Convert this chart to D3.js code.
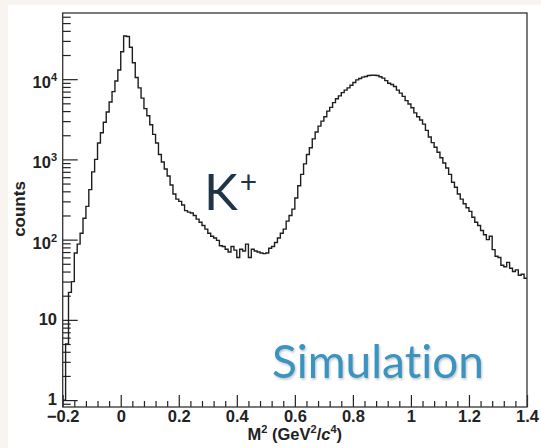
<!DOCTYPE html>
<html>
<head>
<meta charset="utf-8">
<script src="https://cdn.jsdelivr.net/npm/d3@7"></script>
<style>
  body { margin: 0; background: #f8f5f0; }
  text { font-family: "Liberation Sans", Arial, sans-serif; }
</style>
</head>
<body>
<div id="chart"></div>
<script>
(() => {

  // histogram bins: 0.01 wide, starting at M^2 = -0.2
  let binStart = -0.2;
  let binWidth = 0.01;
  let counts = [
    1, 5, 22, 30, 68, 88, 120, 185, 260, 420,
    700, 1000, 1600, 2150, 2900, 3900, 5200, 7000, 9500, 13000,
    22000, 34500, 34000, 25000, 16000, 10500, 7800, 5800, 4300, 3500,
    2700, 2050, 1600, 1150, 930, 760, 620, 480, 370, 320,
    300, 270, 230, 220, 215, 200, 180, 165, 150, 135,
    120, 110, 105, 98, 84, 82, 76, 70, 82, 74,
    60, 76, 72, 88, 60, 76, 72, 70, 68, 67,
    68, 78, 82, 92, 105, 120, 135, 170, 200, 240,
    330, 470, 650, 880, 1150, 1400, 1800, 2200, 2600, 3000,
    3400, 4000, 4450, 5100, 5700, 6200, 6800, 7300, 7800, 8400,
    9100, 9800, 10200, 10600, 10800, 11100, 11200, 11200, 11100, 10700,
    10300, 9600, 8900, 8600, 8100, 7300, 6700, 6100, 5400, 4900,
    4400, 3800, 3400, 3100, 2750, 2300, 1900, 1620, 1420, 1230,
    1050, 900, 780, 650, 520, 450, 370, 320, 280, 250,
    225, 190, 165, 150, 130, 115, 100, 110, 75, 62,
    60, 48, 46, 52, 44, 40, 42, 36, 37, 33
  ];

  let xMajor = [-0.2, 0, 0.2, 0.4, 0.6, 0.8, 1, 1.2, 1.4];
  let xLabels = ['\u22120.2', '0', '0.2', '0.4', '0.6', '0.8', '1', '1.2', '1.4'];
  let yMajor = [1, 10, 100, 1000, 10000];
  let yBase = ['1', '10', '10', '10', '10'];
  let yExp = ['', '', '2', '3', '4'];

  let W = 541, H = 448;
  let frame = { left: 62.7, right: 527, top: 13, bottom: 407 };

  let svg = d3.select('#chart')
    .append('svg')
    .attr('width', W)
    .attr('height', H);

  svg.append('rect')
    .attr('width', W).attr('height', H)
    .attr('fill', '#f8f5f0');
  // white slide panel
  svg.append('rect')
    .attr('x', 8).attr('y', 5)
    .attr('width', W - 8).attr('height', H - 5)
    .attr('fill', '#ffffff');

  let defs = svg.append('defs');
  defs.append('clipPath').attr('id', 'plotClip')
    .append('rect')
    .attr('x', frame.left).attr('y', frame.top)
    .attr('width', frame.right - frame.left)
    .attr('height', frame.bottom - frame.top);
  defs.append('filter').attr('id', 'soft')
    .attr('x', '-10%').attr('y', '-10%').attr('width', '130%').attr('height', '140%')
    .append('feDropShadow')
    .attr('dx', 1).attr('dy', 1.5).attr('stdDeviation', 1.2)
    .attr('flood-color', '#000').attr('flood-opacity', 0.25);

  let xScale = d3.scaleLinear()
    .domain([-0.2, 1.4])
    .range([frame.left, frame.right]);

  let yScale = d3.scaleLog()
    .domain([0.82, 66800])
    .range([frame.bottom, frame.top]);

  // x minor ticks every 0.04
  let xMinor = d3.range(0, 41).map(i => -0.2 + i * 0.04)
    .filter(v => xMajor.every(m => Math.abs(m - v) > 1e-6));

  // y minor ticks 2..9 in each decade (plus 0.9 just above the bottom)
  let yMinor = [];
  for (let e = -1; e <= 4; e++) {
    for (let k = 2; k <= 9; k++) {
      let v = k * Math.pow(10, e);
      if (v >= 0.82 && v <= 66800) yMinor.push(v);
    }
  }

  let axisColor = '#222';

  let gxMinor = svg.append('g')
    .attr('transform', `translate(0, ${frame.bottom})`)
    .call(d3.axisBottom(xScale).tickValues(xMinor).tickSize(-6).tickFormat(''));
  let gx = svg.append('g')
    .attr('transform', `translate(0, ${frame.bottom})`)
    .call(d3.axisBottom(xScale).tickValues(xMajor).tickSize(-12).tickPadding(3)
      .tickFormat((d, i) => xLabels[i]));

  let gyMinor = svg.append('g')
    .attr('transform', `translate(${frame.left}, 0)`)
    .call(d3.axisLeft(yScale).tickValues(yMinor).tickSize(-8).tickFormat(''));
  let gy = svg.append('g')
    .attr('transform', `translate(${frame.left}, 0)`)
    .call(d3.axisLeft(yScale).tickValues(yMajor).tickSize(-15).tickFormat(''));

  [gxMinor, gx, gyMinor, gy].forEach(g => {
    g.select('.domain').remove();
    g.selectAll('line').attr('stroke', axisColor).attr('stroke-width', 1.2);
  });

  gx.selectAll('text')
    .attr('fill', axisColor)
    .style('font-size', '16.5px')
    .style('font-weight', 'bold');

  // y labels with exponents
  let ylab = svg.append('g').selectAll('text')
    .data(yMajor)
    .join('text')
    .attr('x', 57)
    .attr('y', (d, i) => yScale(d) + (yExp[i] ? 9 : 5))
    .attr('text-anchor', 'end')
    .attr('fill', axisColor)
    .style('font-size', '16.5px')
    .style('font-weight', 'bold');
  ylab.append('tspan').text((d, i) => yBase[i]);
  ylab.append('tspan')
    .attr('dy', -7)
    .style('font-size', '11px')
    .text((d, i) => yExp[i]);

  // histogram outline
  let pts = counts.map((c, i) => [binStart + i * binWidth, c]);
  pts.push([binStart + counts.length * binWidth, counts[counts.length - 1]]);

  let line = d3.line()
    .x(d => xScale(d[0]))
    .y(d => yScale(Math.max(d[1], 0.5)))
    .curve(d3.curveStepAfter);

  svg.append('path')
    .datum(pts)
    .attr('clip-path', 'url(#plotClip)')
    .attr('d', line)
    .attr('fill', 'none')
    .attr('stroke', '#1e1e1e')
    .attr('stroke-width', 1.4);

  // frame
  svg.append('rect')
    .attr('x', frame.left).attr('y', frame.top)
    .attr('width', frame.right - frame.left)
    .attr('height', frame.bottom - frame.top)
    .attr('fill', 'none')
    .attr('stroke', '#333')
    .attr('stroke-width', 1.3);

  // axis titles
  let xt = svg.append('text')
    .attr('x', (frame.left + frame.right) / 2)
    .attr('y', 440)
    .attr('text-anchor', 'middle')
    .attr('fill', axisColor)
    .style('font-size', '16.5px')
    .style('font-weight', 'bold');
  xt.append('tspan').text('M');
  xt.append('tspan').attr('dy', -7).style('font-size', '11px').text('2');
  xt.append('tspan').attr('dy', 7).text(' (GeV');
  xt.append('tspan').attr('dy', -7).style('font-size', '11px').text('2');
  xt.append('tspan').attr('dy', 7).text('/');
  xt.append('tspan').style('font-style', 'italic').text('c');
  xt.append('tspan').attr('dy', -7).style('font-size', '11px').text('4');
  xt.append('tspan').attr('dy', 7).text(')');

  svg.append('text')
    .attr('transform', 'translate(25, 209) rotate(-90)')
    .attr('text-anchor', 'middle')
    .attr('fill', axisColor)
    .style('font-size', '17px')
    .style('font-weight', 'bold')
    .text('counts');

  // annotations
  let k = svg.append('text')
    .attr('x', 204)
    .attr('y', 210)
    .attr('fill', '#1f3447')
    .style('font-family', 'Lato, "Open Sans", sans-serif')
    .style('font-size', '51px');
  k.append('tspan').text('K');
  k.append('tspan').attr('dx', 2).attr('dy', -17).style('font-size', '30px').text('+');

  svg.append('text')
    .attr('x', 272)
    .attr('y', 378)
    .attr('fill', '#3a93bf')
    .attr('filter', 'url(#soft)')
    .style('font-family', 'Lato, "Open Sans", sans-serif')
    .style('font-size', '46px')
    .style('font-variant-ligatures', 'none')
    .style('font-feature-settings', '"liga" 0')
    .text('Simulation');

})()
</script>
</body>
</html>
